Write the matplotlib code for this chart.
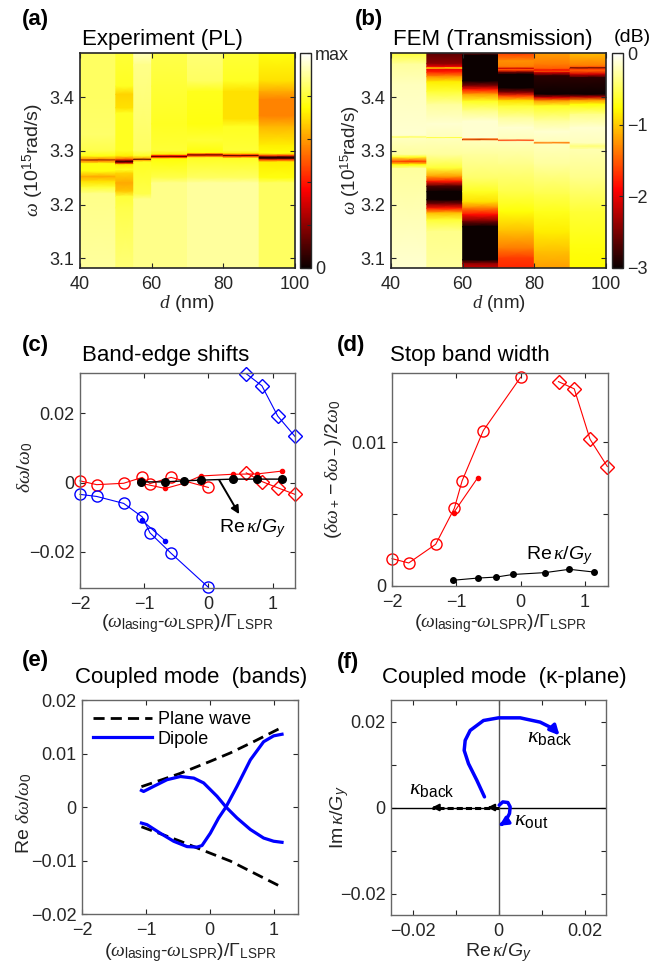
import numpy as np
import matplotlib
matplotlib.use("Agg")
import matplotlib.pyplot as plt
from matplotlib.cm import ScalarMappable
from matplotlib.colors import Normalize
from matplotlib.lines import Line2D

plt.rcParams['font.family'] = ['Liberation Sans', 'DejaVu Sans']
plt.rcParams['mathtext.fontset'] = 'custom'
plt.rcParams['mathtext.rm'] = 'Liberation Sans'
plt.rcParams['mathtext.sf'] = 'Liberation Sans'
plt.rcParams['mathtext.it'] = 'Liberation Serif:italic'
plt.rcParams['mathtext.cal'] = 'Liberation Sans:italic'
plt.rcParams['mathtext.bf'] = 'Liberation Sans:bold'
plt.rcParams['axes.unicode_minus'] = True

# ---------------- (a) PL map: column edges (nm) and per-column spectra ----------------
pl_edges = [40, 50, 55, 60, 70, 80, 90, 100]
pl_omega = [
    [3.482, 3.40, 3.33, 3.300, 3.290, 3.2835, 3.2822, 3.281, 3.276, 3.262, 3.252, 3.243, 3.232, 3.22, 3.082],
    [3.482, 3.42, 3.405, 3.38, 3.37, 3.30, 3.29, 3.284, 3.281, 3.279, 3.277, 3.274, 3.265, 3.258, 3.24, 3.225, 3.215, 3.195, 3.082],
    [3.482, 3.46, 3.30, 3.29, 3.2855, 3.2836, 3.282, 3.279, 3.22, 3.21, 3.082],
    [3.482, 3.42, 3.35, 3.30, 3.293, 3.2905, 3.289, 3.2875, 3.285, 3.25, 3.24, 3.082],
    [3.482, 3.43, 3.41, 3.35, 3.32, 3.296, 3.2935, 3.2917, 3.290, 3.287, 3.25, 3.24, 3.082],
    [3.482, 3.43, 3.41, 3.36, 3.345, 3.30, 3.295, 3.292, 3.2905, 3.289, 3.286, 3.25, 3.24, 3.082],
    [3.482, 3.43, 3.41, 3.395, 3.365, 3.345, 3.31, 3.295, 3.2905, 3.288, 3.2855, 3.283, 3.279, 3.25, 3.24, 3.082],
]
pl_level = [
    [0.84, 0.84, 0.85, 0.82, 0.76, 0.55, 0.10, 0.55, 0.76, 0.76, 0.62, 0.70, 0.80, 0.88, 0.90],
    [0.80, 0.78, 0.68, 0.70, 0.78, 0.78, 0.72, 0.50, 0.20, 0.05, 0.30, 0.72, 0.78, 0.68, 0.62, 0.66, 0.80, 0.82, 0.86],
    [0.93, 0.88, 0.84, 0.78, 0.60, 0.10, 0.60, 0.78, 0.82, 0.88, 0.88],
    [0.82, 0.80, 0.78, 0.80, 0.72, 0.40, 0.10, 0.40, 0.75, 0.82, 0.88, 0.88],
    [0.86, 0.84, 0.77, 0.76, 0.80, 0.75, 0.45, 0.10, 0.45, 0.78, 0.84, 0.90, 0.90],
    [0.80, 0.78, 0.70, 0.70, 0.78, 0.80, 0.72, 0.45, 0.10, 0.45, 0.78, 0.84, 0.90, 0.90],
    [0.76, 0.70, 0.62, 0.56, 0.56, 0.64, 0.72, 0.75, 0.45, 0.05, 0.05, 0.45, 0.72, 0.76, 0.84, 0.84],
]

# ---------------- (b) FEM transmission (dB) ----------------
fem_edges = [40, 50, 60, 70, 80, 90, 100]
fem_omega = [
    [3.482, 3.461, 3.424, 3.330, 3.3265, 3.325, 3.3235, 3.320, 3.293, 3.288, 3.280, 3.274, 3.267, 3.082],
    [3.482, 3.462, 3.456, 3.4536, 3.451, 3.446, 3.438, 3.428, 3.41, 3.386, 3.35, 3.3255, 3.324, 3.3225, 3.293,
     3.268, 3.252, 3.243, 3.234, 3.224, 3.209, 3.200, 3.193, 3.184, 3.171, 3.150, 3.082],
    [3.482, 3.478, 3.430, 3.420, 3.414, 3.405, 3.392, 3.374, 3.355, 3.323, 3.3215, 3.3209, 3.3203, 3.318, 3.293,
     3.249, 3.224, 3.205, 3.193, 3.181, 3.168, 3.159, 3.097, 3.090, 3.082],
    [3.482, 3.467, 3.456, 3.4525, 3.451, 3.4495, 3.446, 3.442, 3.417, 3.408, 3.402, 3.393, 3.383, 3.361, 3.343,
     3.322, 3.319, 3.317, 3.274, 3.224, 3.187, 3.150, 3.118, 3.100, 3.082],
    [3.482, 3.461, 3.4525, 3.4498, 3.4475, 3.4455, 3.4393, 3.405, 3.3988, 3.3925, 3.3832, 3.355, 3.336, 3.317,
     3.3146, 3.312, 3.274, 3.218, 3.187, 3.15, 3.112, 3.082],
    [3.482, 3.458, 3.455, 3.4536, 3.452, 3.4486, 3.4424, 3.4361, 3.405, 3.40, 3.3938, 3.3863, 3.3676, 3.3427,
     3.3146, 3.3084, 3.3022, 3.249, 3.187, 3.125, 3.082],
]
fem_db = [
    [-0.6, -0.3, -0.21, -0.15, -0.21, -0.66, -0.21, -0.21, -0.3, -0.66, -1.65, -0.75, -0.3, -0.15],
    [-2.64, -2.4, -1.95, -0.84, -1.95, -1.74, -1.26, -0.84, -0.6, -0.3, -0.15, -0.21, -0.6, -0.21, -0.3,
     -0.6, -1.2, -1.8, -2.7, -3.0, -3.0, -2.4, -1.8, -1.05, -0.6, -0.36, -0.3],
    [-2.25, -3.0, -3.0, -2.4, -1.8, -1.2, -0.66, -0.36, -0.15, -0.15, -1.5, -2.85, -1.5, -0.21, -0.3,
     -0.45, -0.66, -0.9, -1.35, -1.86, -2.55, -3.0, -3.0, -2.4, -2.1],
    [-1.65, -1.26, -1.35, -2.1, -1.5, -1.65, -2.55, -3.0, -3.0, -2.4, -1.65, -0.9, -0.6, -0.3, -0.15,
     -0.21, -1.65, -0.21, -0.36, -0.54, -0.75, -1.05, -1.35, -1.65, -1.74],
    [-1.2, -1.35, -1.5, -1.95, -1.5, -2.1, -2.85, -3.0, -2.1, -1.2, -0.66, -0.3, -0.15, -0.21,
     -1.35, -0.21, -0.3, -0.54, -0.69, -0.84, -1.05, -1.2],
    [-1.05, -1.35, -1.65, -2.85, -1.65, -1.5, -2.1, -2.85, -3.0, -2.25, -1.2, -0.75, -0.36, -0.15,
     -0.21, -0.42, -0.24, -0.36, -0.6, -0.72, -0.78],
]

# ---------------- (c) band-edge shifts ----------------
x_circ = [-2.0, -1.74, -1.32, -1.03, -0.91, -0.58, 0.0]
red_circ = [0.0005, -0.0006, -0.0002, 0.0015, -0.0003, 0.0015, -0.0014]
blue_circ = [-0.0034, -0.0040, -0.0060, -0.0099, -0.0145, -0.0204, -0.0302]
x_diam = [0.59, 0.835, 1.08, 1.35]
red_diam = [0.0028, 0.0003, -0.0015, -0.0034]
blue_diam = [0.0314, 0.0279, 0.0192, 0.0133]
x_kappa = [-1.05, -0.67, -0.38, -0.12, 0.38, 0.76, 1.14]
red_dot = [-0.0002, -0.0017, -0.0002, 0.0019, 0.0024, 0.0025, 0.0033]
x_blue_dot = [-1.04, -0.67]
blue_dot = [-0.0108, -0.0168]
re_kappa_c = [0.0002, 0.0002, 0.0005, 0.0007, 0.0010, 0.0010, 0.0010]

# ---------------- (d) stop band width ----------------
gap_circ = [0.0019, 0.0016, 0.0029, 0.0054, 0.0073, 0.0108, 0.0145]
gap_diam = [0.0142, 0.0137, 0.0102, 0.0083]
x_gap_dot = [-1.04, -0.67]
gap_dot = [0.0051, 0.0075]
re_kappa_d = [0.0004, 0.00055, 0.00062, 0.0008, 0.00093, 0.00116, 0.00097]

# ---------------- (e) coupled-mode bands ----------------
x_pw = [-1.07, -0.75, -0.46, 0.0, 0.32, 0.7, 1.13]
pw_up = [0.0038, 0.0051, 0.0063, 0.0085, 0.0101, 0.0123, 0.0149]
pw_dn = [-0.0037, -0.0051, -0.0064, -0.0086, -0.0101, -0.0124, -0.0150]
x_dip1 = [-1.07, -1.036, -0.88, -0.67, -0.46, -0.25, -0.097, 0.113, 0.253, 0.425, 0.634, 0.842, 0.999, 1.13]
dip1 = [0.0031, 0.0029, 0.00385, 0.0051, 0.0057, 0.0054, 0.0045, 0.0020, 0.0, -0.00205, -0.0042, -0.0058, -0.0064, -0.0066]
x_dip2 = [-1.07, -0.983, -0.775, -0.566, -0.357, -0.2, -0.122, 0.008, 0.138, 0.253, 0.425, 0.634, 0.842, 0.999, 1.13]
dip2 = [-0.0030, -0.0033, -0.0049, -0.0064, -0.0074, -0.0075, -0.0072, -0.0049, -0.00205, 0.0, 0.00385, 0.0088, 0.0122, 0.0133, 0.0136]

# ---------------- (f) kappa plane ----------------
kb_re = [-0.00326, -0.00504, -0.00698, -0.00798, -0.00775, -0.00659, -0.00349, 0.0, 0.00504, 0.00969, 0.01279, 0.01419]
kb_im = [0.00247, 0.00633, 0.0102, 0.01328, 0.0156, 0.01792, 0.02023, 0.02085, 0.02085, 0.01985, 0.0183, 0.01676]
ko_re = [0.00016, 0.0010, 0.00217, 0.00271, 0.00256, 0.00178, 0.00078, 0.00016]
ko_im = [0.00054, 0.0013, 0.00116, 0.00015, -0.00139, -0.00293, -0.00386, -0.00425]
pw_back_re = [0.0, -0.0155]

W, H = 652, 971
fig = plt.figure(figsize=(W / 100, H / 100), dpi=100)
TXT = '#262626'


def box(l, t, r, b):
    return [l / W, 1 - b / H, (r - l) / W, (b - t) / H]


def ftext(x, y, s, **kw):
    fig.text(x / W, 1 - y / H, s, color='k', **kw)


def style(ax, edge='#262626', lw=1.2):
    ax.tick_params(direction='in', top=True, right=True, length=3.5, width=0.8,
                   labelsize=13, colors=TXT, pad=4)
    ax.tick_params(axis='x', pad=6)
    for sp in ax.spines.values():
        sp.set_color(edge)
        sp.set_linewidth(lw)


def labels(ax, xl, yl, xpos, ypos, ymid=0.5, size=14):
    ax.set_xlabel(xl, fontsize=size, color=TXT)
    ax.set_ylabel(yl, fontsize=size, color=TXT)
    ax.xaxis.set_label_coords(0.5, xpos)
    ax.yaxis.set_label_coords(ypos, ymid)
    ax.xaxis.label.set_va('center')
    ax.yaxis.label.set_va('center')


def draw_columns(ax, edges, omegas, levels, cmap, norm):
    for k in range(len(edges) - 1):
        w = np.asarray(omegas[k])
        v = np.asarray(levels[k])
        X = np.column_stack([np.full(len(w), edges[k]), np.full(len(w), edges[k + 1])])
        Y = np.column_stack([w, w])
        C = np.column_stack([v, v])
        ax.pcolormesh(X, Y, C, shading='gouraud', cmap=cmap, norm=norm)


omega_ticks = [3.1, 3.2, 3.3, 3.4]
d_ticks = [40, 60, 80, 100]
yl_omega = r'$\omega$ (10$^{15}$rad/s)'
xl_d = r'$d$ (nm)'

# (a)
ax_a = fig.add_axes(box(80, 53, 295, 268))
cax_a = fig.add_axes(box(300, 53, 311, 268))
norm_a = Normalize(0, 1)
draw_columns(ax_a, pl_edges, pl_omega, pl_level, 'hot', norm_a)
ax_a.set_xlim(40, 100)
ax_a.set_ylim(3.082, 3.482)
ax_a.set_xticks(d_ticks)
ax_a.set_yticks(omega_ticks)
style(ax_a)
labels(ax_a, xl_d, yl_omega, -0.165, -0.215)
cb = fig.colorbar(ScalarMappable(norm=norm_a, cmap='hot'), cax=cax_a)
cb.set_ticks([0, 0.2, 0.4, 0.6, 0.8, 1.0])
cb.set_ticklabels(['0', '', '', '', '', 'max'])
cax_a.tick_params(direction='in', length=3, width=0.8, labelsize=13, colors=TXT, pad=3)
cb.outline.set_edgecolor('#262626')
cb.outline.set_linewidth(1.0)

# (b)
ax_b = fig.add_axes(box(391, 53, 606, 268))
cax_b = fig.add_axes(box(612, 53, 623, 268))
norm_b = Normalize(-3, 0)
draw_columns(ax_b, fem_edges, fem_omega, fem_db, 'hot', norm_b)
ax_b.set_xlim(40, 100)
ax_b.set_ylim(3.082, 3.482)
ax_b.set_xticks(d_ticks)
ax_b.set_yticks(omega_ticks)
style(ax_b)
labels(ax_b, xl_d, yl_omega, -0.165, -0.19, size=13.5)
cb = fig.colorbar(ScalarMappable(norm=norm_b, cmap='hot'), cax=cax_b)
cb.set_ticks([-3, -2, -1, 0])
cax_b.tick_params(direction='in', length=3, width=0.8, labelsize=13, colors=TXT, pad=3)
cb.outline.set_edgecolor('#262626')
cb.outline.set_linewidth(1.0)

xl_det = r'($\omega_{\rm lasing}$-$\omega_{\rm LSPR}$)/$\Gamma_{\rm LSPR}$'
ke = r'Re$\,\kappa/\mathcal{G}_\mathcal{y}$'

# (c)
ax_c = fig.add_axes(box(80, 373, 295, 588))
ax_c.plot(x_circ, red_circ, '-o', color='r', mfc='none', ms=8, lw=0.8, clip_on=False)
ax_c.plot(x_kappa, red_dot, '-o', color='r', ms=3, lw=0.8, clip_on=False)
ax_c.plot(x_diam, red_diam, '-D', color='r', mfc='none', ms=7, lw=0.8, clip_on=False)
ax_c.plot(x_circ, blue_circ, '-o', color='b', mfc='none', ms=8, lw=0.8, clip_on=False)
ax_c.plot(x_blue_dot, blue_dot, '-o', color='b', ms=3, lw=0.8, clip_on=False)
ax_c.plot(x_diam, blue_diam, '-D', color='b', mfc='none', ms=7, lw=0.8, clip_on=False)
ax_c.plot(x_kappa, re_kappa_c, '-o', color='k', ms=5.5, lw=1.0, clip_on=False)
ax_c.annotate('', xy=(0.48, -0.0091), xytext=(0.17, 0.0007),
              arrowprops=dict(arrowstyle='-|>', color='k', lw=1.4, mutation_scale=12, shrinkA=0, shrinkB=0))
ax_c.text(0.68, -0.0132, ke, fontsize=14, ha='center', va='center')
ax_c.set_xlim(-2, 1.35)
ax_c.set_ylim(-0.0304, 0.0316)
ax_c.set_xticks([-2, -1, 0, 1])
ax_c.set_yticks([-0.02, 0, 0.02])
ax_c.set_yticklabels(['\u22120.02', '0', '0.02'])
style(ax_c, edge='#666666', lw=1.0)
labels(ax_c, xl_det, r'$\delta\omega/\omega_0$', -0.165, -0.256, 0.56)

# (d)
ax_d = fig.add_axes(box(392, 373, 608, 586))
ax_d.plot(x_circ, gap_circ, '-o', color='r', mfc='none', ms=8, lw=0.8, clip_on=False)
ax_d.plot(x_gap_dot, gap_dot, '-o', color='r', ms=3, lw=0.8, clip_on=False)
ax_d.plot(x_diam, gap_diam, '-D', color='r', mfc='none', ms=7, lw=0.8, clip_on=False)
ax_d.plot(x_kappa, re_kappa_d, '-o', color='k', ms=4, lw=0.8, clip_on=False)
ax_d.text(0.61, 0.00213, ke, fontsize=14, ha='center', va='center')
ax_d.set_xlim(-2, 1.36)
ax_d.set_ylim(0, 0.0148)
ax_d.set_xticks([-2, -1, 0, 1])
ax_d.set_yticks([0, 0.005, 0.01])
ax_d.set_yticklabels(['0', '', '0.01'])
style(ax_d, edge='#666666', lw=1.0)
labels(ax_d, xl_det, r'$(\delta\omega_+ - \delta\omega_-)/2\omega_0$', -0.178, -0.27, 0.55)

# (e)
ax_e = fig.add_axes(box(82, 700, 298, 914))
ax_e.plot(x_pw, pw_up, color='k', lw=2.0, ls=(0, (4, 2.2)))
ax_e.plot(x_pw, pw_dn, color='k', lw=2.0, ls=(0, (4, 2.2)))
ax_e.plot(x_dip1, dip1, color='b', lw=2.3)
ax_e.plot(x_dip2, dip2, color='b', lw=2.3)
handles = [Line2D([], [], color='k', lw=2.0, ls=(0, (4, 2.2))), Line2D([], [], color='b', lw=2.3)]
ax_e.legend(handles, ['Plane wave', 'Dipole'], loc='upper left', frameon=False, fontsize=13,
            handlelength=3.3, handletextpad=0.3, labelspacing=0.15, borderaxespad=0.2,
            bbox_to_anchor=(0.0, 1.0))
ax_e.set_xlim(-2, 1.38)
ax_e.set_ylim(-0.02, 0.02)
ax_e.set_xticks([-2, -1, 0, 1])
ax_e.set_yticks([-0.02, -0.01, 0, 0.01, 0.02])
ax_e.set_yticklabels(['\u22120.02', '\u22120.01', '0', '0.01', '0.02'])
style(ax_e, edge='#666666', lw=1.0)
labels(ax_e, xl_det, r'Re $\delta\omega/\omega_0$', -0.182, -0.27, 0.47)

# (f)
ax_f = fig.add_axes(box(391, 700, 606, 915))
ax_f.axhline(0, color='k', lw=1.0)
ax_f.axvline(0, color='#555555', lw=1.0)
ax_f.plot(pw_back_re, [0, 0], color='k', lw=2.2, ls=(0, (2, 1)))
ax_f.annotate('', xy=(pw_back_re[1], 0), xytext=(pw_back_re[1] + 0.001, 0),
              arrowprops=dict(arrowstyle='-|>', color='k', lw=1.5, mutation_scale=10, shrinkA=0, shrinkB=0))
ax_f.annotate('', xy=(-0.0026, 0), xytext=(-0.0016, 0),
              arrowprops=dict(arrowstyle='-|>', color='k', lw=1.5, mutation_scale=10, shrinkA=0, shrinkB=0))
ax_f.plot(kb_re[:-1], kb_im[:-1], color='b', lw=2.5, solid_capstyle='round')
ax_f.annotate('', xy=(kb_re[-1], kb_im[-1]), xytext=(kb_re[-2], kb_im[-2]),
              arrowprops=dict(arrowstyle='-|>', color='b', lw=2.5, mutation_scale=14, shrinkA=0, shrinkB=0))
ax_f.plot(ko_re[:-1], ko_im[:-1], color='b', lw=2.5, solid_capstyle='round')
ax_f.annotate('', xy=(ko_re[-1], ko_im[-1]), xytext=(ko_re[-2], ko_im[-2]),
              arrowprops=dict(arrowstyle='-|>', color='b', lw=2.5, mutation_scale=12, shrinkA=0, shrinkB=0))
ax_f.text(0.0066, 0.0164, r'$\kappa_{\rm back}$', fontsize=16, ha='left', va='center')
ax_f.text(-0.0209, 0.0044, r'$\kappa_{\rm back}$', fontsize=16, ha='left', va='center')
ax_f.text(0.0035, -0.0029, r'$\kappa_{\rm out}$', fontsize=16, ha='left', va='center')
ax_f.set_xlim(-0.025, 0.025)
ax_f.set_ylim(-0.025, 0.025)
ax_f.set_xticks([-0.02, -0.01, 0, 0.01, 0.02])
ax_f.set_yticks([-0.02, -0.01, 0, 0.01, 0.02])
ax_f.set_xticklabels(['\u22120.02', '', '0', '', '0.02'])
ax_f.set_yticklabels(['\u22120.02', '', '0', '', '0.02'])
style(ax_f, edge='#666666', lw=1.0)
labels(ax_f, ke, r'Im$\,\kappa/\mathcal{G}_\mathcal{y}$', -0.176, -0.237, 0.456)

# panel letters and titles
for x, y, s in [(22, 20, '(a)'), (355, 20, '(b)'), (22, 346, '(c)'), (337, 346, '(d)'),
                (22, 660, '(e)'), (337, 662, '(f)')]:
    ftext(x, y, s, fontsize=16, fontweight='bold', va='center')
for x, y, s in [(82, 45, 'Experiment (PL)'), (393, 45, 'FEM (Transmission)'),
                (82, 361, 'Band-edge shifts'), (390, 361, 'Stop band width'),
                (75, 683, 'Coupled mode  (bands)'), (382, 683, 'Coupled mode  (\u03ba-plane)')]:
    ftext(x, y, s, fontsize=16, va='baseline')
ftext(614, 42, '(dB)', fontsize=14, va='baseline')

fig.savefig('out.png', dpi=100)
